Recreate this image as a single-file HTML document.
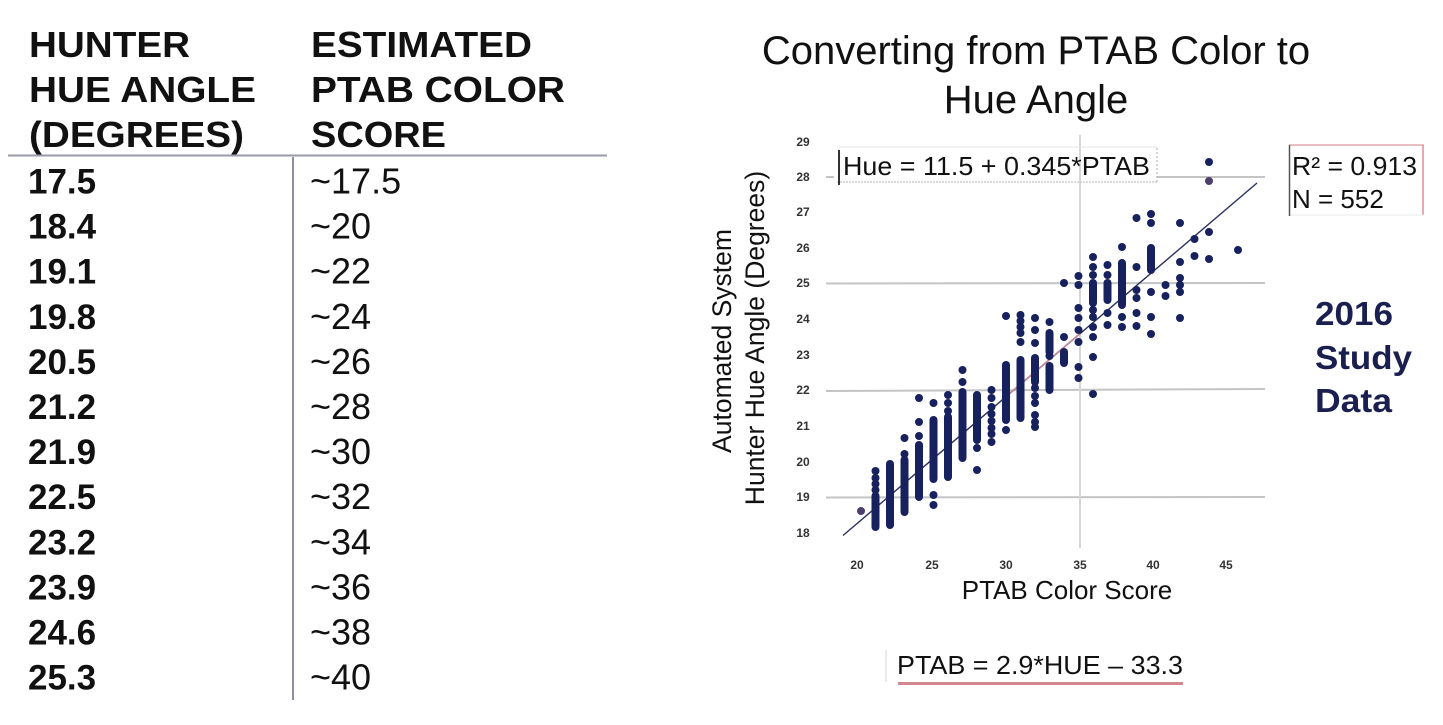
<!DOCTYPE html>
<html>
<head>
<meta charset="utf-8">
<style>
html,body{margin:0;padding:0;background:#fff;}
svg{display:block;}
text{font-family:"Liberation Sans",Arial,sans-serif;}
</style>
</head>
<body>
<svg width="1443" height="725" viewBox="0 0 1443 725" xmlns="http://www.w3.org/2000/svg">
<rect width="1443" height="725" fill="#fff"/>

<!-- LEFT TABLE -->
<g fill="#111" font-weight="bold" font-size="36">
  <text x="29" y="57" textLength="161" lengthAdjust="spacingAndGlyphs">HUNTER</text>
  <text x="29" y="102" textLength="227" lengthAdjust="spacingAndGlyphs">HUE ANGLE</text>
  <text x="29" y="147" textLength="215" lengthAdjust="spacingAndGlyphs">(DEGREES)</text>
  <text x="311" y="57" textLength="221" lengthAdjust="spacingAndGlyphs">ESTIMATED</text>
  <text x="311" y="102" textLength="254" lengthAdjust="spacingAndGlyphs">PTAB COLOR</text>
  <text x="311" y="147" textLength="135" lengthAdjust="spacingAndGlyphs">SCORE</text>
</g>
<line x1="8" y1="155.5" x2="607" y2="155.5" stroke="#9a9ba8" stroke-width="2"/>
<line x1="293" y1="157" x2="293" y2="700" stroke="#8c8ea2" stroke-width="2"/>

<g fill="#111" font-weight="bold" font-size="35">
  <text x="28" y="193.5">17.5</text>
  <text x="28" y="238.6">18.4</text>
  <text x="28" y="283.7">19.1</text>
  <text x="28" y="328.8">19.8</text>
  <text x="28" y="373.9">20.5</text>
  <text x="28" y="419">21.2</text>
  <text x="28" y="464.1">21.9</text>
  <text x="28" y="509.2">22.5</text>
  <text x="28" y="554.3">23.2</text>
  <text x="28" y="599.4">23.9</text>
  <text x="28" y="644.5">24.6</text>
  <text x="28" y="689.6">25.3</text>
</g>
<g fill="#111" font-size="36">
  <text x="310" y="193.5">~17.5</text>
  <text x="310" y="238.6">~20</text>
  <text x="310" y="283.7">~22</text>
  <text x="310" y="328.8">~24</text>
  <text x="310" y="373.9">~26</text>
  <text x="310" y="419">~28</text>
  <text x="310" y="464.1">~30</text>
  <text x="310" y="509.2">~32</text>
  <text x="310" y="554.3">~34</text>
  <text x="310" y="599.4">~36</text>
  <text x="310" y="644.5">~38</text>
  <text x="310" y="689.6">~40</text>
</g>

<!-- TITLE -->
<g fill="#111" font-size="40" text-anchor="middle">
  <text x="1036" y="64">Converting from PTAB Color to</text>
  <text x="1036" y="113">Hue Angle</text>
</g>

<!-- GRIDLINES -->
<g stroke="#c4c4c4" stroke-width="2" fill="none">
  <line x1="826" y1="177" x2="834" y2="177"/>
  <line x1="1157" y1="177" x2="1265" y2="177"/>
  <line x1="826" y1="283.5" x2="1265" y2="283"/>
  <line x1="826" y1="391" x2="1265" y2="389"/>
  <line x1="826" y1="497.5" x2="1265" y2="497"/>
</g>
<line x1="1080" y1="135" x2="1080" y2="548" stroke="#d6d6d6" stroke-width="2"/>

<!-- Y TICK LABELS -->
<g fill="#333" font-size="12" font-weight="bold" text-anchor="middle">
  <text x="803" y="146">29</text>
  <text x="803" y="181">28</text>
  <text x="803" y="216">27</text>
  <text x="803" y="252">26</text>
  <text x="803" y="287">25</text>
  <text x="803" y="323">24</text>
  <text x="803" y="359">23</text>
  <text x="803" y="394">22</text>
  <text x="803" y="430">21</text>
  <text x="803" y="466">20</text>
  <text x="803" y="501">19</text>
  <text x="803" y="537">18</text>
</g>
<!-- X TICK LABELS -->
<g fill="#333" font-size="12" font-weight="bold" text-anchor="middle">
  <text x="857" y="569">20</text>
  <text x="932" y="569">25</text>
  <text x="1006" y="569">30</text>
  <text x="1080" y="569">35</text>
  <text x="1153" y="569">40</text>
  <text x="1226" y="569">45</text>
</g>

<!-- AXIS TITLES -->
<text x="1067" y="599" fill="#111" font-size="26" text-anchor="middle">PTAB Color Score</text>
<g fill="#111" font-size="26.5" text-anchor="middle">
  <text transform="translate(731,341) rotate(-90)">Automated System</text>
  <text transform="translate(764,338) rotate(-90)">Hunter Hue Angle (Degrees)</text>
</g>

<!-- EQUATION BOX -->
<g>
  <line x1="837" y1="182" x2="1157" y2="182" stroke="#cfcfcf" stroke-width="1.5" stroke-dasharray="2,1"/>
  <line x1="837" y1="147" x2="1157" y2="147" stroke="#e6e6e6" stroke-width="1"/>
  <line x1="1157" y1="148" x2="1157" y2="182" stroke="#bbb" stroke-width="1.2" stroke-dasharray="2,2"/>
  <line x1="839" y1="150" x2="839" y2="185" stroke="#333" stroke-width="2"/>
  <text x="843" y="175" fill="#111" font-size="26" textLength="307" lengthAdjust="spacingAndGlyphs">Hue = 11.5 + 0.345*PTAB</text>
</g>

<!-- R2 BOX -->
<g>
  <line x1="1289" y1="145" x2="1424" y2="145" stroke="#e3a8ae" stroke-width="1.5"/>
  <line x1="1423" y1="145" x2="1423" y2="215" stroke="#e08e98" stroke-width="1.5"/>
  <line x1="1289" y1="215" x2="1424" y2="215" stroke="#e8e8e8" stroke-width="1"/>
  <line x1="1289.5" y1="145" x2="1289.5" y2="216" stroke="#555" stroke-width="1.5"/>
  <text x="1292" y="175" fill="#111" font-size="26" textLength="125" lengthAdjust="spacingAndGlyphs">R² = 0.913</text>
  <text x="1292" y="208" fill="#111" font-size="26">N = 552</text>
</g>

<!-- STUDY LABEL -->
<g fill="#1b1f4f" font-size="33" font-weight="bold">
  <text x="1315" y="325" textLength="78" lengthAdjust="spacingAndGlyphs">2016</text>
  <text x="1315" y="369" textLength="97" lengthAdjust="spacingAndGlyphs">Study</text>
  <text x="1315" y="412" textLength="77" lengthAdjust="spacingAndGlyphs">Data</text>
</g>

<!-- REGRESSION LINE -->
<line x1="843" y1="535.5" x2="1257" y2="183" stroke="#2a2f60" stroke-width="1.4"/>
<line x1="1010" y1="393" x2="1080" y2="333.5" stroke="#c48a98" stroke-width="1.6"/>

<!-- DENSE SEGMENTS -->
<g stroke="#16215e" stroke-width="8" stroke-linecap="round" fill="none">
  <line x1="875.5" y1="496" x2="875.5" y2="527"/>
  <line x1="890" y1="464" x2="890" y2="525"/>
  <line x1="904.5" y1="460" x2="904.5" y2="512"/>
  <line x1="919" y1="445" x2="919" y2="497"/>
  <line x1="933.5" y1="420" x2="933.5" y2="479"/>
  <line x1="948" y1="417" x2="948" y2="477"/>
  <line x1="962.5" y1="392" x2="962.5" y2="458"/>
  <line x1="977" y1="395" x2="977" y2="440"/>
  <line x1="1006" y1="365" x2="1006" y2="420"/>
  <line x1="1020.5" y1="360" x2="1020.5" y2="418"/>
  <line x1="1035" y1="358" x2="1035" y2="382"/>
  <line x1="1049.5" y1="333" x2="1049.5" y2="352"/>
  <line x1="1049.5" y1="366" x2="1049.5" y2="390"/>
  <line x1="1064" y1="352" x2="1064" y2="363"/>
  <line x1="1093" y1="283" x2="1093" y2="303"/>
  <line x1="1107.5" y1="283" x2="1107.5" y2="300"/>
  <line x1="1122" y1="263" x2="1122" y2="305"/>
  <line x1="1151" y1="248" x2="1151" y2="270"/>
</g>

<!-- DOTS -->
<g fill="#16215e">
  <circle cx="875.5" cy="471" r="4"/><circle cx="875.5" cy="478" r="4"/><circle cx="875.5" cy="484" r="4"/><circle cx="875.5" cy="490" r="4"/>
  <circle cx="904.5" cy="438" r="4"/><circle cx="904.5" cy="454" r="4"/>
  <circle cx="919" cy="398" r="4"/><circle cx="919" cy="422" r="4"/><circle cx="919" cy="436" r="4"/>
  <circle cx="933.5" cy="403" r="4"/><circle cx="933.5" cy="495" r="4"/><circle cx="933.5" cy="505" r="4"/>
  <circle cx="948" cy="395" r="4"/><circle cx="948" cy="403" r="4"/><circle cx="948" cy="411" r="4"/>
  <circle cx="962.5" cy="370" r="4"/><circle cx="962.5" cy="382" r="4"/>
  <circle cx="977" cy="448" r="4"/><circle cx="977" cy="470" r="4"/>
  <circle cx="991.5" cy="390" r="4"/><circle cx="991.5" cy="398" r="4"/><circle cx="991.5" cy="407" r="4"/><circle cx="991.5" cy="414" r="4"/><circle cx="991.5" cy="421" r="4"/><circle cx="991.5" cy="428" r="4"/><circle cx="991.5" cy="434" r="4"/><circle cx="991.5" cy="442" r="4"/>
  <circle cx="1006" cy="316" r="4"/><circle cx="1006" cy="430" r="4"/>
  <circle cx="1020.5" cy="315" r="4"/><circle cx="1020.5" cy="321" r="4"/><circle cx="1020.5" cy="327" r="4"/><circle cx="1020.5" cy="333" r="4"/><circle cx="1020.5" cy="342" r="4"/>
  <circle cx="1035" cy="318" r="4"/><circle cx="1035" cy="330" r="4"/><circle cx="1035" cy="343" r="4"/><circle cx="1035" cy="388" r="4"/><circle cx="1035" cy="396" r="4"/><circle cx="1035" cy="403" r="4"/><circle cx="1035" cy="415" r="4"/><circle cx="1035" cy="422" r="4"/><circle cx="1035" cy="427" r="4"/>
  <circle cx="1049.5" cy="322" r="4"/><circle cx="1049.5" cy="356" r="4"/>
  <circle cx="1064" cy="283" r="4"/><circle cx="1064" cy="337" r="4"/>
  <circle cx="1078.5" cy="276" r="4"/><circle cx="1078.5" cy="285" r="4"/><circle cx="1078.5" cy="308" r="4"/><circle cx="1078.5" cy="318" r="4"/><circle cx="1078.5" cy="330" r="4"/><circle cx="1078.5" cy="342" r="4"/><circle cx="1078.5" cy="367" r="4"/><circle cx="1078.5" cy="378" r="4"/>
  <circle cx="1093" cy="257" r="4"/><circle cx="1093" cy="267" r="4"/><circle cx="1093" cy="275" r="4"/><circle cx="1093" cy="310" r="4"/><circle cx="1093" cy="317" r="4"/><circle cx="1093" cy="327" r="4"/><circle cx="1093" cy="337" r="4"/><circle cx="1093" cy="357" r="4"/><circle cx="1093" cy="394" r="4"/>
  <circle cx="1107.5" cy="265" r="4"/><circle cx="1107.5" cy="275" r="4"/><circle cx="1107.5" cy="313" r="4"/><circle cx="1107.5" cy="325" r="4"/>
  <circle cx="1122" cy="247" r="4"/><circle cx="1122" cy="317" r="4"/><circle cx="1122" cy="327" r="4"/>
  <circle cx="1136.5" cy="218" r="4"/><circle cx="1136.5" cy="267" r="4"/><circle cx="1136.5" cy="290" r="4"/><circle cx="1136.5" cy="298" r="4"/><circle cx="1136.5" cy="313" r="4"/><circle cx="1136.5" cy="326" r="4"/>
  <circle cx="1151" cy="214" r="4"/><circle cx="1151" cy="223" r="4"/><circle cx="1151" cy="292" r="4"/><circle cx="1151" cy="317" r="4"/><circle cx="1151" cy="334" r="4"/>
  <circle cx="1165.5" cy="285" r="4"/><circle cx="1165.5" cy="296" r="4"/>
  <circle cx="1180" cy="223" r="4"/><circle cx="1180" cy="262" r="4"/><circle cx="1180" cy="278" r="4"/><circle cx="1180" cy="285" r="4"/><circle cx="1180" cy="292" r="4"/><circle cx="1180" cy="318" r="4"/>
  <circle cx="1194.5" cy="239" r="4"/><circle cx="1194.5" cy="256" r="4"/>
  <circle cx="1209" cy="162" r="4"/><circle cx="1209" cy="232" r="4"/><circle cx="1209" cy="259" r="4"/>
  <circle cx="1238" cy="250" r="4"/>
</g>
<g fill="#4d3f6c">
  <circle cx="861" cy="511" r="4"/>
  <circle cx="1209" cy="181" r="4"/>
</g>

<!-- BOTTOM EQUATION -->
<line x1="886" y1="650" x2="886" y2="682" stroke="#e2e2e2" stroke-width="1.5"/>
<text x="897" y="674" fill="#111" font-size="26" textLength="286" lengthAdjust="spacingAndGlyphs">PTAB = 2.9*HUE – 33.3</text>
<line x1="898" y1="683.5" x2="1183" y2="683.5" stroke="#d4868f" stroke-width="3"/>

</svg>
</body>
</html>
